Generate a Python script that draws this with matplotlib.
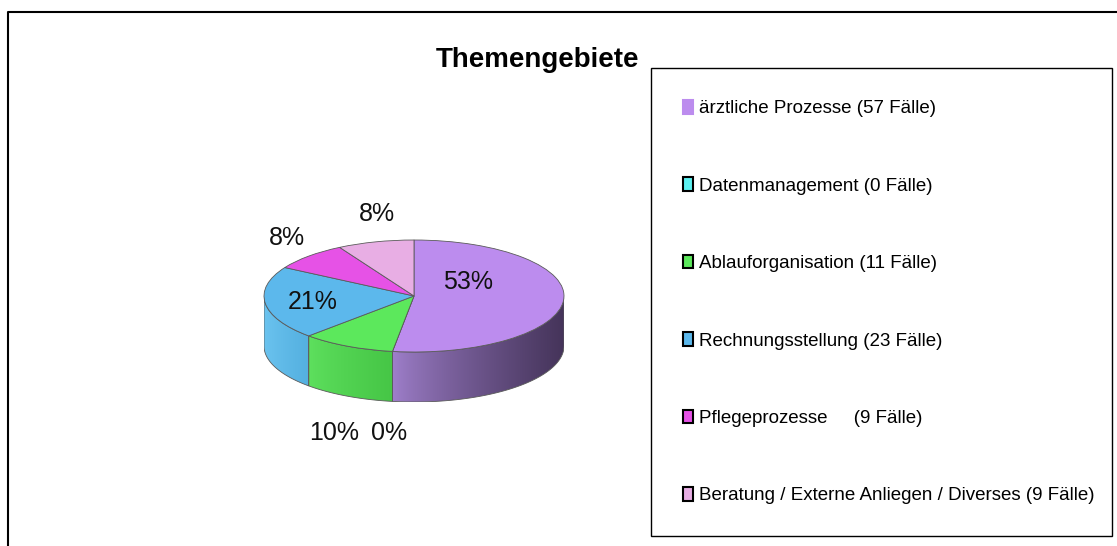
import numpy as np
import matplotlib
matplotlib.use("Agg")
import matplotlib.pyplot as plt
from matplotlib.patches import Polygon, Patch
from matplotlib.lines import Line2D
from matplotlib.colors import to_rgb

W, H = 1117, 546
FONT = ["Liberation Sans Narrow", "Liberation Sans", "DejaVu Sans"]

# --- data ---
categories = [
    "ärztliche Prozesse (57 Fälle)",
    "Datenmanagement (0 Fälle)",
    "Ablauforganisation (11 Fälle)",
    "Rechnungsstellung (23 Fälle)",
    "Pflegeprozesse     (9 Fälle)",
    "Beratung / Externe Anliegen / Diverses (9 Fälle)",
]
cases = [57, 0, 11, 23, 9, 9]
pct_labels = ["53%", "0%", "10%", "21%", "8%", "8%"]

top_colors = ["#bc8cee", "#5cf0f0", "#5ce85c", "#5cb8ec", "#e652e6", "#e8aee4"]
# side wall gradient (left colour, right colour)
side_colors = [("#a080cc", "#45345a"), ("#4cd0d0", "#3cb0b0"), ("#5ee05e", "#46c646"),
               ("#6cc4f0", "#54b0e0"), ("#c840c8", "#a030a0"), ("#d098cc", "#b080b0")]

# pixel positions of the percentage labels (layout only)
label_pos = [(468, 282), (389, 433), (334, 433), (313, 302), (287, 238), (377, 214)]

plt.rcParams["font.family"] = FONT

fig = plt.figure(figsize=(W / 100, H / 100), dpi=100)

# pie geometry in pixels
cx, top_y, rx, ry, depth = 414, 240, 150, 56, 50
d = depth / ry
ax = fig.add_axes([(cx - rx) / W, 1 - (top_y + 2 * ry + depth) / H,
                   2 * rx / W, (2 * ry + depth) / H])

wedges, _ = ax.pie(cases, colors=top_colors, startangle=90, counterclock=False,
                   radius=1, wedgeprops=dict(edgecolor="#5a5a5a", linewidth=0.6))
for w in wedges:
    w.set_zorder(5)
ax.set_aspect("auto")
ax.axis("off")

# side walls for the front half of the pie
fracs = np.array(cases) / sum(cases)
start = 90.0
for i, f in enumerate(fracs):
    a_hi = start
    a_lo = start - 360 * f
    start = a_lo
    if f == 0:
        continue
    for shift in (-360, 0, 360):
        lo = max(a_lo + shift, -180)
        hi = min(a_hi + shift, 0)
        if hi <= lo:
            continue
        t = np.radians(np.linspace(lo, hi, 80))
        xs = np.cos(t)
        ys = np.sin(t)
        pts = np.vstack([np.column_stack([xs, ys]),
                         np.column_stack([xs[::-1], ys[::-1] - d])])
        poly = Polygon(pts, closed=True, facecolor="none", edgecolor="#5a5a5a",
                       linewidth=0.6, zorder=3)
        ax.add_patch(poly)
        c1 = np.array(to_rgb(side_colors[i][0]))
        c2 = np.array(to_rgb(side_colors[i][1]))
        g = np.linspace(0, 1, 256)[None, :, None] ** 0.8
        img = c1 + (c2 - c1) * g
        im = ax.imshow(img, extent=[xs.min(), xs.max(), -1 - d, 0.1],
                       aspect="auto", zorder=2, interpolation="bilinear")
        im.set_clip_path(poly)

ax.set_xlim(-1, 1)
ax.set_ylim(-1 - d, 1)

for txt, (px, py) in zip(pct_labels, label_pos):
    fig.text(px / W, 1 - py / H, txt, ha="center", va="center", fontsize=18,
             color="#111111")

fig.text(537 / W, 1 - 60 / H, "Themengebiete", ha="center", va="center",
         fontsize=20, fontweight="bold")

# legend
handles = []
for i, c in enumerate(top_colors):
    ec = c if i == 0 else "black"
    handles.append(Patch(facecolor=c, edgecolor=ec, linewidth=1.5))
leg = fig.legend(handles, categories, loc="upper left",
                 bbox_to_anchor=(651 / W, 1 - 68 / H, (1112 - 651) / W, 0.0),
                 mode="expand", fontsize=13.5, frameon=True, fancybox=False,
                 edgecolor="black", framealpha=1, borderpad=1.7,
                 labelspacing=3.2, handlelength=0.55, handleheight=0.75,
                 handletextpad=0.3, borderaxespad=0)
leg.get_frame().set_linewidth(1.0)

# outer chart frame
fig.add_artist(Line2D([8 / W, 8 / W, 1], [0, 1 - 12 / H, 1 - 12 / H],
                      color="black", linewidth=1.5))

fig.savefig("out.png", dpi=100)
